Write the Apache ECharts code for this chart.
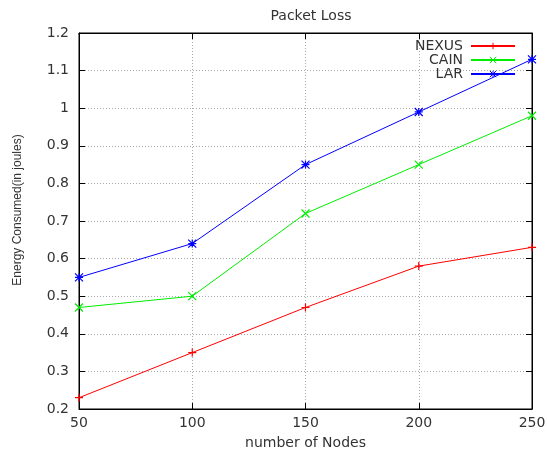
<!DOCTYPE html>
<html>
<head>
<meta charset="utf-8">
<script src="https://cdn.jsdelivr.net/npm/echarts@6/dist/echarts.min.js"></script>
<style>
  html, body { margin:0; padding:0; background:#fff; }
  #chart { width:548px; height:455px; }
</style>
</head>
<body>
<div id="chart"></div>
<script>
const NODES = [50, 100, 150, 200, 250];
const NEXUS = [0.23, 0.35, 0.47, 0.58, 0.63];
const CAIN  = [0.47, 0.50, 0.72, 0.85, 0.98];
const LAR   = [0.55, 0.64, 0.85, 0.99, 1.13];

const FONT = "'DejaVu Sans', sans-serif";
const TXT = '#333';
const SYM = {
  plus:  'path://M0,5L10,5M5,0L5,10',
  cross: 'path://M0,0L10,10M0,10L10,0',
  star:  'path://M0,0L10,10M0,10L10,0M0,5L10,5M5,0L5,10'
};

const pts = ys => NODES.map((x, i) => [x, ys[i]]);
const mk = (name, ys, color, sym) => ({
  name, type:'line', data:pts(ys), symbol:sym, symbolSize:8,
  lineStyle:{width:1, color}, xAxisIndex:0, yAxisIndex:0,
  itemStyle:{color, borderColor:color, borderWidth:1.2},
  emphasis:{disabled:true}
});

const tickIn = {show:true, inside:true, length:6, lineStyle:{color:'#000'}};
const grid = {show:true, type:[1,2], color:'#a8a8a8', width:1};

const c = echarts.init(document.getElementById('chart'), null, {renderer:'canvas'});
c.setOption({
  backgroundColor:'#fff',
  animation:false,
  title:{text:'Packet Loss', left:306, textAlign:'center', top:4,
    textStyle:{fontFamily:FONT, fontSize:14, fontWeight:'normal', color:TXT}},
  grid:{left:79, right:16, top:33, bottom:46, show:true, borderColor:'#000', borderWidth:1,
    outerBoundsMode:'none'},
  legend:{right:32, top:39, padding:0, orient:'vertical', align:'right',
    itemWidth:44, itemHeight:8, itemGap:0,
    data:['NEXUS','CAIN','LAR'],
    itemStyle:{borderWidth:1},
    textStyle:{fontFamily:FONT, fontSize:14, color:TXT, lineHeight:14, padding:[0,3,0,0]}},
  xAxis:[
    {type:'value', min:50, max:250, interval:50,
      name:'number of Nodes', nameLocation:'middle', nameGap:27,
      nameTextStyle:{fontFamily:FONT, fontSize:14, color:TXT},
      axisLine:{lineStyle:{color:'#000'}}, axisTick:tickIn,
      axisLabel:{fontFamily:FONT, fontSize:14, color:TXT, margin:7},
      splitLine:{show:true, lineStyle:grid}},
    {type:'value', position:'top', min:50, max:250, interval:50,
      axisLine:{lineStyle:{color:'#000'}}, axisTick:tickIn,
      axisLabel:{show:false}, splitLine:{show:false}}
  ],
  yAxis:[
    {type:'value', min:0.2, max:1.2, interval:0.1,
      name:'Energy Consumed(in joules)', nameLocation:'middle', nameGap:55, nameRotate:90,
      nameTextStyle:{fontFamily:"'Liberation Sans', Arial, sans-serif", fontSize:12, color:TXT,
        padding:[0,0,0,22]},
      axisLine:{lineStyle:{color:'#000'}}, axisTick:tickIn,
      axisLabel:{fontFamily:FONT, fontSize:14, color:TXT, margin:10,
        formatter:v => String(+v.toFixed(1))},
      splitLine:{show:true, lineStyle:grid}},
    {type:'value', position:'right', min:0.2, max:1.2, interval:0.1,
      axisLine:{lineStyle:{color:'#000'}}, axisTick:tickIn,
      axisLabel:{show:false}, splitLine:{show:false}}
  ],
  series:[
    mk('NEXUS', NEXUS, '#ff0000', SYM.plus),
    mk('CAIN', CAIN, '#00ee00', SYM.cross),
    mk('LAR', LAR, '#0000ff', SYM.star)
  ]
});
</script>
</body>
</html>
